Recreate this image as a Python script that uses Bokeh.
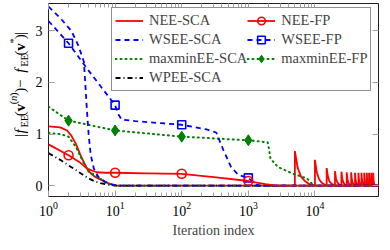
import math
from bokeh.plotting import figure
from bokeh.layouts import row
from bokeh.models import (Range1d, LogAxis, LinearAxis, FixedTicker, Legend,
                          LegendItem, ColumnDataSource)
from bokeh.core.properties import value
from bokeh.embed import file_html
from bokeh.resources import INLINE

FONT = "Liberation Serif"

# ---------------- data ----------------
x_major = [1, 10, 100, 1000, 10000]
y_major = [0, 1, 2, 3]

nee_sca_x = [1, 1.5, 1.9, 2.2, 2.6, 3.0, 3.4, 3.8, 4.3, 5.0, 6.0, 7.5, 9.0, 10.5,
             5000, 5000, 5500, 6200, 7200, 8500, 9990,
             10000, 10000, 10700, 11600, 12800, 14990,
             15000, 15000, 15700, 16600, 18000, 19990,
             20000, 20000, 20700, 21600, 23000, 24990,
             25000, 25000, 25700, 26600, 28000, 29990,
             30000, 30000, 30700, 31600, 33000, 34990,
             35000, 35000, 35700, 36600, 38000, 39990,
             40000, 40000, 40700, 41600, 43000, 44990,
             45000, 45000, 45700, 46600, 48000, 49990,
             50000, 50000, 50700, 51600, 53000, 54990,
             55000, 55000, 55700, 56600, 58000, 59990,
             60000, 60000, 60700, 61600, 63000, 64990,
             65000, 65000, 65700, 66600, 68000, 69990,
             70000, 70000, 70700, 71600, 73000, 74990,
             75000, 75000, 75700, 76600, 78000, 79990,
             90000]
nee_sca_y = [1.15, 1.13, 1.07, 0.97, 0.80, 0.60, 0.45, 0.33, 0.24, 0.17, 0.12, 0.06, 0.02, 0.0,
             0.0, 0.67, 0.35, 0.17, 0.08, 0.02, 0.0,
             0.0, 0.50, 0.25, 0.12, 0.05, 0.0,
             0.0, 0.34, 0.17, 0.08, 0.03, 0.0,
             0.0, 0.28, 0.14, 0.07, 0.02, 0.0,
             0.0, 0.27, 0.14, 0.07, 0.02, 0.0,
             0.0, 0.26, 0.13, 0.065, 0.02, 0.0,
             0.0, 0.26, 0.13, 0.065, 0.02, 0.0,
             0.0, 0.25, 0.12, 0.06, 0.02, 0.0,
             0.0, 0.25, 0.12, 0.06, 0.02, 0.0,
             0.0, 0.25, 0.12, 0.06, 0.02, 0.0,
             0.0, 0.25, 0.12, 0.06, 0.02, 0.0,
             0.0, 0.25, 0.12, 0.06, 0.02, 0.0,
             0.0, 0.25, 0.12, 0.06, 0.02, 0.0,
             0.0, 0.25, 0.12, 0.06, 0.02, 0.0,
             0.0, 0.25, 0.12, 0.06, 0.02, 0.0,
             0.0]

nee_fp_x = [1, 2, 2.9, 3.8, 5.3, 7, 10, 30, 100, 330, 1000, 1800, 2500, 3000, 90000]
nee_fp_y = [0.80, 0.59, 0.46, 0.33, 0.26, 0.25, 0.25, 0.24, 0.23, 0.16, 0.09, 0.03, 0.005, 0.0, 0.0]

wsee_sca_x = [1, 1.5, 2.2, 2.8, 3.4, 3.6, 3.8, 4.0, 4.3, 4.8, 5.6, 7.0, 8.5, 11, 90000]
wsee_sca_y = [3.47, 3.25, 3.0, 2.72, 2.4, 1.9, 1.4, 1.0, 0.6, 0.33, 0.17, 0.08, 0.03, 0.0, 0.0]

wsee_fp_x = [1, 2, 4, 10, 11, 12.5, 20, 50, 100, 236, 330, 422, 551, 705, 1000, 1290, 1500, 90000]
wsee_fp_y = [3.19, 2.76, 2.23, 1.56, 1.40, 1.28, 1.25, 1.21, 1.18, 1.09, 1.03, 0.69, 0.36, 0.21, 0.15, 0.02, 0.0, 0.0]

mm_sca_x = [1, 1.5, 2.0, 2.6, 3.2, 4.0, 5.3, 6.5, 7.4, 9, 10, 90000]
mm_sca_y = [1.02, 1.0, 0.95, 0.74, 0.5, 0.27, 0.19, 0.1, 0.04, 0.01, 0.0, 0.0]

mm_fp_x = [1, 2, 10, 100, 1000, 1950, 2050, 2150, 2800, 3550, 4700, 7600, 9000, 10500, 90000]
mm_fp_y = [1.53, 1.26, 1.07, 0.95, 0.88, 0.84, 0.70, 0.52, 0.36, 0.30, 0.23, 0.14, 0.04, 0.0, 0.0]

wpee_sca_x = [1, 1.5, 1.9, 2.6, 3.2, 4.0, 5.0, 6.0, 7.5, 9, 11, 90000]
wpee_sca_y = [0.63, 0.50, 0.41, 0.30, 0.22, 0.14, 0.08, 0.05, 0.025, 0.01, 0.0, 0.0]

fp_mark_x = [2, 10, 100, 1000]
nee_fp_mark_y = [0.59, 0.25, 0.23, 0.09]
wsee_fp_mark_y = [2.76, 1.56, 1.18, 0.15]
mm_fp_mark_y = [1.26, 1.07, 0.95, 0.88]

# ---------------- layout constants ----------------
H = 242
LAB_W = 30          # width of the strip that holds the y-axis title
FRAME_TOP, FRAME_BOTTOM_BORDER = 3, 46

# ---------------- main figure ----------------
p_main = figure(width=382 - LAB_W, height=H, x_axis_type="log",
                x_range=Range1d(1, 9e4), y_range=Range1d(-0.21, 3.53),
                output_backend="svg", toolbar_location=None,
                min_border_left=48 - LAB_W, min_border_right=4,
                min_border_top=FRAME_TOP, min_border_bottom=FRAME_BOTTOM_BORDER)
p_main.grid.visible = False
p_main.outline_line_color = "#222222"
p_main.outline_line_width = 1
p_main.background_fill_color = "white"
p_main.border_fill_color = "white"

x_minor = [m * 10 ** k for k in range(4) for m in range(2, 10)]
TICK = "#a0a0a0"

def style_axis(ax, labels=True):
    ax.axis_line_color = None
    ax.major_tick_in = 6
    ax.major_tick_out = 0
    ax.minor_tick_in = 4
    ax.minor_tick_out = 0
    ax.major_tick_line_color = TICK
    ax.minor_tick_line_color = TICK
    if labels:
        ax.major_label_text_font = FONT
        ax.major_label_text_font_size = "14px"
        ax.major_label_text_color = "black"
        ax.major_label_standoff = 5
    else:
        ax.major_label_text_font_size = "1px"
        ax.major_label_text_alpha = 0
        ax.major_label_standoff = 0

xt = FixedTicker(ticks=x_major, minor_ticks=x_minor)
yt = FixedTicker(ticks=y_major, minor_ticks=[])

p_main.xaxis.ticker = xt
p_main.yaxis.ticker = yt
style_axis(p_main.xaxis[0])
style_axis(p_main.yaxis[0])
p_main.yaxis.major_label_standoff = 6
p_main.xaxis.axis_label = "Iteration index"
p_main.xaxis.axis_label_text_font = FONT
p_main.xaxis.axis_label_text_font_style = "normal"
p_main.xaxis.axis_label_text_font_size = "14px"
p_main.xaxis.axis_label_standoff = 4

top = LogAxis(ticker=xt)
style_axis(top, labels=False)
p_main.add_layout(top, "above")
right = LinearAxis(ticker=yt)
style_axis(right, labels=False)
p_main.add_layout(right, "right")

RED, BLUE, GREEN, BLACK = "#ff0000", "#0000ff", "#008000", "#000000"
LW = 1.8

r_nee_sca = p_main.line(nee_sca_x, nee_sca_y, line_color=RED, line_width=LW)
r_wpee = p_main.line(wpee_sca_x, wpee_sca_y, line_color=BLACK, line_width=LW,
                     line_dash="5 3 1 3")
r_mm_sca = p_main.line(mm_sca_x, mm_sca_y, line_color=GREEN, line_width=2,
                       line_dash="1 4", line_cap="round")
r_mm_fp = p_main.line(mm_fp_x, mm_fp_y, line_color=GREEN, line_width=2,
                      line_dash="1 4", line_cap="round")
r_mm_fp_m = p_main.scatter(fp_mark_x, mm_fp_mark_y, marker="diamond", size=11,
                           fill_color=GREEN, line_color=GREEN)
r_wsee_sca = p_main.line(wsee_sca_x, wsee_sca_y, line_color=BLUE, line_width=LW,
                         line_dash="5 4")
r_wsee_fp = p_main.line(wsee_fp_x, wsee_fp_y, line_color=BLUE, line_width=LW,
                        line_dash="5 4")
r_wsee_fp_m = p_main.scatter(fp_mark_x, wsee_fp_mark_y, marker="square", size=8,
                             fill_color=None, line_color=BLUE, line_width=1.6)
r_nee_fp = p_main.line(nee_fp_x, nee_fp_y, line_color=RED, line_width=LW)
r_nee_fp_m = p_main.scatter(fp_mark_x, nee_fp_mark_y, marker="circle", size=9,
                            fill_color=None, line_color=RED, line_width=1.6)

ROW_H, LEG_PAD, N_ROWS = 19, 3, 4
leg_h = N_ROWS * ROW_H + 2 * LEG_PAD
frame_bottom = H - FRAME_BOTTOM_BORDER
legend = Legend(items=[
    LegendItem(label="NEE-SCA", renderers=[r_nee_sca]),
    LegendItem(label="NEE-FP", renderers=[r_nee_fp, r_nee_fp_m]),
    LegendItem(label="WSEE-SCA", renderers=[r_wsee_sca]),
    LegendItem(label="WSEE-FP", renderers=[r_wsee_fp, r_wsee_fp_m]),
    LegendItem(label="maxminEE-SCA", renderers=[r_mm_sca]),
    LegendItem(label="maxminEE-FP", renderers=[r_mm_fp, r_mm_fp_m]),
    LegendItem(label="WPEE-SCA", renderers=[r_wpee]),
], location=(63, frame_bottom - 9 - leg_h), orientation="horizontal", ncols=2)
legend.label_text_font = FONT
legend.label_text_font_size = "14.5px"
legend.glyph_width = 28
legend.glyph_height = ROW_H
legend.label_height = ROW_H
legend.label_standoff = 6
legend.spacing = 0
legend.padding = LEG_PAD
legend.margin = 0
legend.border_line_color = "#222222"
legend.border_line_width = 1
legend.background_fill_alpha = 1.0
p_main.add_layout(legend, "center")

# ---------------- y-axis title strip (pixel-unit ranges) ----------------
ylab = figure(width=LAB_W, height=H, x_range=Range1d(0, LAB_W),
              y_range=Range1d(H, 0), output_backend="svg",
              toolbar_location=None, x_axis_location=None,
              y_axis_location=None, min_border=0)
ylab.grid.visible = False
ylab.outline_line_color = None
ylab.background_fill_color = "white"
ylab.border_fill_color = "white"

MAIN, SMALL = 15, 10.5
W = {"|": 0.28, "f": 0.49, "E": 0.68, "(": 0.39, ")": 0.39, "v": 0.61,
     "n": 0.6, "*": 0.5, " ": 0.25, "\u2212": 0.78}
pieces = [  # text, style, size, shift (+ = subscript direction)
    ("|", "normal", MAIN, 0), ("f", "italic", MAIN, 0),
    ("EE", "normal", SMALL, 4), ("(", "normal", MAIN, 0),
    ("v", "bold", MAIN, 0), ("(", "normal", SMALL, -7),
    ("n", "italic", SMALL, -7), (")", "normal", SMALL, -7),
    (")", "normal", MAIN, 0), (" \u2212 ", "normal", MAIN, 0),
    ("f", "italic", MAIN, 0), ("EE", "normal", SMALL, 4),
    ("(", "normal", MAIN, 0), ("v", "bold", MAIN, 0),
    ("*", "normal", SMALL, -7), (")", "normal", MAIN, 0),
    ("|", "normal", MAIN, 0),
]
widths = [sum(W[c] for c in t) * s for t, _, s, _ in pieces]
total = sum(widths)
cx, cy, ct, cs, cz = [], [], [], [], []
sy = 101 + total / 2
for (t, st, s, sh), w in zip(pieces, widths):
    cx.append(19.5 + sh)
    cy.append(sy)
    ct.append(t)
    cs.append(st)
    cz.append(f"{s}px")
    sy -= w
src = ColumnDataSource(dict(x=cx, y=cy, text=ct, style=cs, size=cz))
ylab.text(x="x", y="y", text="text", source=src, angle=math.pi / 2,
          text_font=value(FONT), text_font_style="style",
          text_font_size="size", text_align="left",
          text_baseline="alphabetic", text_color="black")

p = row(ylab, p_main)
open("out.html", "w").write(file_html(p, INLINE))
